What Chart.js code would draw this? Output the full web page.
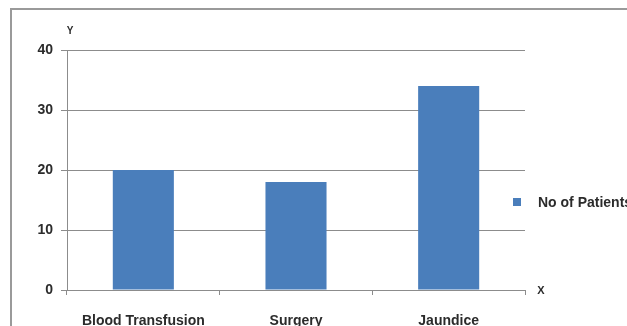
<!DOCTYPE html>
<html>
<head>
<meta charset="utf-8">
<script src="https://cdn.jsdelivr.net/npm/chart.js@4.4.1/dist/chart.umd.min.js"></script>
<style>
  html, body { margin: 0; padding: 0; background: #ffffff; overflow: hidden; }
  #wrap { width: 627px; height: 326px; position: relative; overflow: hidden; }
  canvas { display: block; }
</style>
</head>
<body>
<div id="wrap"><canvas id="chart" width="627" height="326"></canvas></div>
<script>
// Patients by cause
const categories = ['Blood Transfusion', 'Surgery', 'Jaundice'];
const patients = [20, 18, 34];
const seriesLabel = 'No of Patients';
const yTicks = [0, 10, 20, 30, 40];

const FONT = '"Liberation Sans", Arial, sans-serif';
const TEXT = '#2b2b2b';
const LINE = '#8c8c8c';
const BAR = '#4a7ebb';

// Grey frame edges of the chart object, a side legend and the X / Y axis captions
const decorations = {
  id: 'decorations',
  beforeDraw(chart) {
    const ctx = chart.ctx;
    ctx.save();
    ctx.fillStyle = '#ffffff';
    ctx.fillRect(0, 0, chart.width, chart.height);
    ctx.fillStyle = '#9a9a9a';
    ctx.fillRect(10, 8, 2, chart.height - 8);
    ctx.fillRect(10, 8, chart.width - 10, 2);
    ctx.restore();
  },
  afterDraw(chart) {
    const ctx = chart.ctx;
    const x = chart.scales.x, y = chart.scales.y;
    const area = chart.chartArea;
    ctx.save();
    ctx.fillStyle = TEXT;
    ctx.font = 'bold 10px ' + FONT;
    ctx.textAlign = 'center';
    ctx.textBaseline = 'middle';
    ctx.fillText('Y', x.left + 3, area.top - 19);
    ctx.font = 'bold 11px ' + FONT;
    ctx.fillText('X', area.right + 16, y.getPixelForValue(0) + 1);

    // legend entry
    const ds = chart.data.datasets[0];
    const ly = 202;
    ctx.fillStyle = ds.backgroundColor;
    ctx.fillRect(513, ly - 4, 8, 8);
    ctx.fillStyle = TEXT;
    ctx.font = 'bold 14px ' + FONT;
    ctx.textAlign = 'left';
    ctx.fillText(ds.label, 538, ly + 1);
    ctx.restore();
  }
};

new Chart(document.getElementById('chart'), {
  type: 'bar',
  data: {
    labels: categories,
    datasets: [{
      label: seriesLabel,
      data: patients,
      backgroundColor: BAR,
      borderWidth: 0,
      categoryPercentage: 0.4,
      barPercentage: 1.0
    }]
  },
  options: {
    responsive: false,
    animation: false,
    devicePixelRatio: 1,
    layout: { padding: { top: 50, right: 102, bottom: 0, left: 0 } },
    plugins: {
      legend: { display: false },
      tooltip: { enabled: false }
    },
    scales: {
      x: {
        offset: true,
        grid: {
          offset: true,
          drawOnChartArea: false,
          drawTicks: true,
          tickLength: 5,
          color: LINE,
          lineWidth: 1
        },
        border: { display: true, color: LINE, width: 1 },
        ticks: {
          color: TEXT,
          font: { family: FONT, size: 14, weight: 'bold' },
          padding: 18,
          maxRotation: 0,
          autoSkip: false
        },
        afterFit(scale) { scale.height = 36; }
      },
      y: {
        min: 0,
        max: 40,
        afterBuildTicks(scale) { scale.ticks = yTicks.map(v => ({ value: v })); },
        grid: {
          color: LINE,
          lineWidth: 1,
          drawTicks: true,
          tickLength: 6
        },
        border: { display: true, color: LINE, width: 1 },
        ticks: {
          color: TEXT,
          font: { family: FONT, size: 14, weight: 'bold' },
          padding: 8
        },
        afterFit(scale) { scale.width = 67; }
      }
    }
  },
  plugins: [decorations]
});
</script>
</body>
</html>
